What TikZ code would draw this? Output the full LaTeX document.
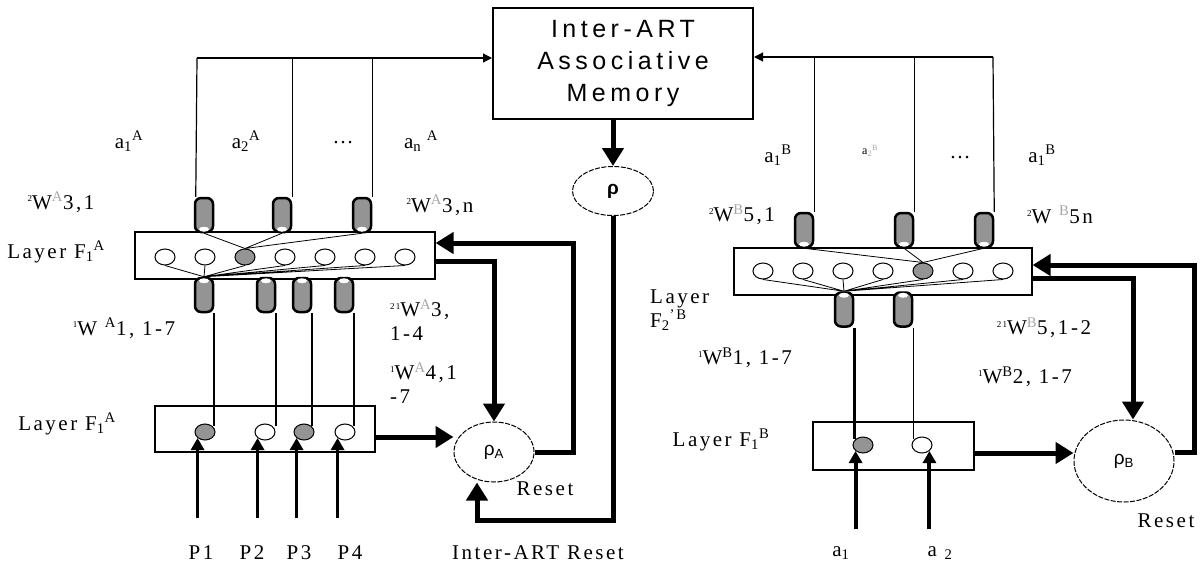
\documentclass[tikz,border=0pt]{standalone}
\usepackage{fontspec}
\setmainfont{Liberation Serif}[LetterSpace=12]
\newfontfamily\memfont{Liberation Sans}[LetterSpace=18]
\newfontfamily\rhofont{Liberation Sans}
\usetikzlibrary{arrows.meta, positioning, shapes.geometric}
\newcommand{\gsup}[1]{\textsuperscript{\textcolor{black!35}{#1}}}
\newcommand{\pre}[1]{\raisebox{0.75ex}{\fontsize{9}{9}\selectfont #1}}

\begin{document}
\begin{tikzpicture}[
  x=1pt, y=-1pt,
  lab/.style={font=\fontsize{21}{24}\selectfont, inner sep=0pt, align=left},
  mem/.style={rectangle, draw, line width=2pt, minimum width=260pt, minimum height=111pt,
              font=\memfont\fontsize{25}{32}\selectfont, align=center},
  layerbox/.style={rectangle, draw, line width=1.2pt},
  cell/.style={ellipse, draw, line width=1pt, minimum width=20pt, minimum height=16pt, inner sep=0pt, fill=white},
  oncell/.style={cell, fill=black!42},
  cyl/.style={rectangle, draw, line width=2.5pt, rounded corners=6pt, fill=black!42,
              minimum width=18pt, minimum height=34pt, inner sep=0pt},
  cylcap/.style={white},
  rhoel/.style={ellipse, draw, line width=1pt, dash pattern=on 5pt off 1.5pt, inner sep=0pt,
                font=\rhofont\fontsize{19}{22}\selectfont},
  bus/.style={line width=1.2pt},
  busarr/.style={bus, -{Triangle[length=9pt, width=9pt]}},
  fan/.style={line width=0.8pt},
  fat/.style={line width=5pt, -{Triangle[length=18pt, width=21pt]}},
  inarr/.style={line width=3.5pt, -{Triangle[length=12pt, width=13pt]}},
]
\useasboundingbox (0,0) rectangle (1200,565);

\node[mem] (mem) at (623,63.5) {Inter-ART\\Associative\\Memory};
\node[rhoel, minimum width=81pt, minimum height=49pt] (rho) at (613,191) {\textbf{ρ}};
\node[rhoel, minimum width=80pt, minimum height=60pt] (rhoA) at (494,452) {ρ\textsubscript{A}};
\node[rhoel, minimum width=100pt, minimum height=82pt] (rhoB) at (1124,461) {ρ\textsubscript{B}};

% ART a
\node[layerbox, minimum width=300pt, minimum height=47pt] (upA) at (285,255.5) {};
\node[layerbox, minimum width=220pt, minimum height=46pt] (lowA) at (265,429) {};
\node[cell] (uA1) at (165,257) {};
\node[cell] (uA2) at (205,257) {};
\node[oncell] (uA3) at (245,257) {};
\node[cell] (uA4) at (285,257) {};
\node[cell] (uA5) at (325,257) {};
\node[cell] (uA6) at (365,257) {};
\node[cell] (uA7) at (405,257) {};
\node[oncell] (lA1) at (205,432) {};
\node[cell] (lA2) at (265,432) {};
\node[oncell] (lA3) at (304,432) {};
\node[cell] (lA4) at (345,432) {};
\node[cyl] (tA1) at (204,215) {};
\node[cyl] (tA2) at (282,215) {};
\node[cyl] (tA3) at (362,215) {};
\node[cyl] (bA1) at (204,295) {};
\node[cyl] (bA2) at (266,295) {};
\node[cyl] (bA3) at (302,295) {};
\node[cyl] (bA4) at (344,295) {};

% ART b
\node[layerbox, minimum width=298pt, minimum height=47pt] (upB) at (883,271.5) {};
\node[layerbox, minimum width=161pt, minimum height=48pt] (lowB) at (893.5,446) {};
\node[cell] (uB1) at (763,271) {};
\node[cell] (uB2) at (803,271) {};
\node[cell] (uB3) at (843,271) {};
\node[cell] (uB4) at (883,271) {};
\node[oncell] (uB5) at (923,271) {};
\node[cell] (uB6) at (963,271) {};
\node[cell] (uB7) at (1003,271) {};
\node[oncell] (lB1) at (863,445) {};
\node[cell] (lB2) at (922,445) {};
\node[cyl] (tB1) at (804,230) {};
\node[cyl] (tB2) at (904,230) {};
\node[cyl] (tB3) at (984,230) {};
\node[cyl] (bB1) at (844,309.5) {};
\node[cyl] (bB2) at (903,309.5) {};

% open ends of the weight cylinders
\fill[cylcap] ([yshift=4pt]tA1.south) ellipse (5pt and 2.5pt);
\fill[cylcap] ([yshift=4pt]tA2.south) ellipse (5pt and 2.5pt);
\fill[cylcap] ([yshift=4pt]tA3.south) ellipse (5pt and 2.5pt);
\fill[cylcap] ([yshift=-4pt]bA1.north) ellipse (5pt and 2.5pt);
\fill[cylcap] ([yshift=-4pt]bA2.north) ellipse (5pt and 2.5pt);
\fill[cylcap] ([yshift=-4pt]bA3.north) ellipse (5pt and 2.5pt);
\fill[cylcap] ([yshift=-4pt]bA4.north) ellipse (5pt and 2.5pt);
\fill[cylcap] ([yshift=4pt]tB1.south) ellipse (5pt and 2.5pt);
\fill[cylcap] ([yshift=4pt]tB2.south) ellipse (5pt and 2.5pt);
\fill[cylcap] ([yshift=4pt]tB3.south) ellipse (5pt and 2.5pt);
\fill[cylcap] ([yshift=-4pt]bB1.north) ellipse (5pt and 2.5pt);
\fill[cylcap] ([yshift=-4pt]bB2.north) ellipse (5pt and 2.5pt);

% labels
\node[lab] (la1) at (129,141) {a\textsubscript{1}\textsuperscript{A}};
\node[lab] (la2) at (246,141) {a\textsubscript{2}\textsuperscript{A}};
\node[lab] (ladots) at (343,143) {…};
\node[lab] (lan) at (421,141) {a\textsubscript{n}\textsuperscript{ A}};
\node[lab] (lb1) at (778,155) {a\textsubscript{1}\textsuperscript{B}};
\node[lab, font=\fontsize{12}{14}\selectfont] (lb2) at (870,151) {a\textsubscript{\textcolor{black!35}{2}}\gsup{B}};
\node[lab] (lbdots) at (960,158) {…};
\node[lab] (lbn) at (1042,155) {a\textsubscript{1}\textsuperscript{B}};
\node[lab] (w31) at (61,202) {\pre{2}W\gsup{A}3,1};
\node[lab] (w3n) at (440,205) {\pre{2}W\gsup{A}3,n};
\node[lab] (w51) at (742,215) {\pre{2}W\gsup{B}5,1};
\node[lab] (w5n) at (1060,215) {\pre{2}W \gsup{B}5n};
\node[lab] (lyA2) at (56,252) {Layer F\textsubscript{1}\textsuperscript{A}};
\node[lab] (lyA1) at (67,424) {Layer F\textsubscript{1}\textsuperscript{A}};
\node[lab] (w117) at (124,328) {\pre{1}W \textsuperscript{A}1, 1-7};
\node[lab, anchor=west] (w314) at (390,320) {\pre{21}W\gsup{A}3,\\1-4};
\node[lab, anchor=west] (w417) at (390,383) {\pre{1}W\gsup{A}4,1\\-7};
\node[lab] (p1) at (201,553) {P1};
\node[lab] (p2) at (252,553) {P2};
\node[lab] (p3) at (299,553) {P3};
\node[lab] (p4) at (350,553) {P4};
\node[lab] (iareset) at (538,553) {Inter-ART Reset};
\node[lab] (resetA) at (545,489) {Reset};
\node[lab, anchor=west] (lyB2) at (650,310) {Layer\\F\textsubscript{2}\textsuperscript{'B}};
\node[lab] (w512) at (1044,328) {\pre{21}W\gsup{B}5,1-2};
\node[lab] (wb117) at (745,358) {\pre{1}W\textsuperscript{B}1, 1-7};
\node[lab] (wb217) at (1025,377) {\pre{1}W\textsuperscript{B}2, 1-7};
\node[lab] (lyB1) at (721,440) {Layer F\textsubscript{1}\textsuperscript{B}};
\node[lab] (in1) at (841,553) {a\textsubscript{1}};
\node[lab] (in2) at (940,553) {a \textsubscript{2}};
\node[lab] (resetB) at (1166,521) {Reset};

% buses to the memory
\coordinate (busA) at (197,58);
\coordinate (busB) at (993,57);
\draw[busarr] (busA) -- (busA -| mem.west);
\draw[bus] ([xshift=2pt]tA1.north west) -- (busA);
\draw[bus] (tA2.north east) -- (tA2.north east |- busA);
\draw[bus] (tA3.north east) -- (tA3.north east |- busA);
\draw[busarr] (busB) -- (busB -| mem.east);
\draw[bus] (tB1.north east) -- (tB1.north east |- busB);
\draw[bus] (tB2.north east) -- (tB2.north east |- busB);
\draw[bus] (tB3.north east) -- (busB);

% weights inside the layers
\draw[fan] (tA1.south) -- (uA3.north) (tA2.south) -- (uA3.north) (tA3.south) -- (uA3.north);
\draw[fan] (bA1.north) -- (uA1.south) (bA1.north) -- (uA2.south) (bA1.north) -- (uA3.south)
  (bA1.north) -- (uA4.south) (bA1.north) -- (uA5.south) (bA1.north) -- (uA6.south) (bA1.north) -- (uA7.south);
\draw[fan] (tB1.south) -- (uB5.north) (tB2.south) -- (uB5.north) (tB3.south) -- (uB5.north);
\draw[fan] (bB1.north) -- (uB1.south) (bB1.north) -- (uB2.south) (bB1.north) -- (uB3.south)
  (bB1.north) -- (uB4.south) (bB1.north) -- (uB5.south) (bB1.north) -- (uB6.south) (bB1.north) -- (uB7.south);

% F1 to F2
\draw[line width=2pt] (bA1.south east) -- (bA1.south east |- lA1.north east);
\draw[line width=2pt] (bA2.south east) -- (bA2.south east |- lA2.north east);
\draw[line width=2pt] (bA3.south east) -- (bA3.south east |- lA3.north east);
\draw[line width=2pt] (bA4.south east) -- (bA4.south east |- lA4.north east);
\draw[line width=2.5pt] (bB1.south east) -- (bB1.south east |- lB1.north west);
\draw[line width=1pt] (bB2.south east) -- (bB2.south east |- lB2.north west);

% inputs
\draw[inarr] ([yshift=-80pt]lA1.south west) -- (lA1.south west);
\draw[inarr] ([yshift=-80pt]lA2.south west) -- (lA2.south west);
\draw[inarr] ([yshift=-80pt]lA3.south west) -- (lA3.south west);
\draw[inarr] ([yshift=-80pt]lA4.south west) -- (lA4.south west);
\draw[inarr, line width=4pt] ([yshift=-78pt]lB1.south west) -- (lB1.south west);
\draw[inarr, line width=4pt] ([yshift=-78pt]lB2.south east) -- (lB2.south east);

% vigilance and reset
\coordinate (rsA) at (573,243);
\coordinate (rsB) at (1194,265);
\coordinate (irc) at (613,520);
\draw[fat] (rho.north |- mem.south) -- (rho.north);
\draw[fat] (rho.south) -- (irc) -| ([xshift=-17pt]rhoA.south);
\draw[fat] ([yshift=-8pt]lowA.east) -- ([yshift=-8pt]lowA.east -| rhoA.west);
\draw[fat] ([yshift=-5.5pt]upA.east) -| (rhoA.north);
\draw[fat] (rhoA.east) -| (rsA) -- (rsA -| upA.east);
\draw[fat] ([yshift=-7pt]lowB.east) -- ([yshift=-7pt]lowB.east -| rhoB.west);
\draw[fat] ([yshift=-6.5pt]upB.east) -| ([xshift=9pt]rhoB.north);
\draw[fat] ([yshift=9pt]rhoB.east) -| (rsB) -- (rsB -| upB.east);
\end{tikzpicture}
\end{document}
